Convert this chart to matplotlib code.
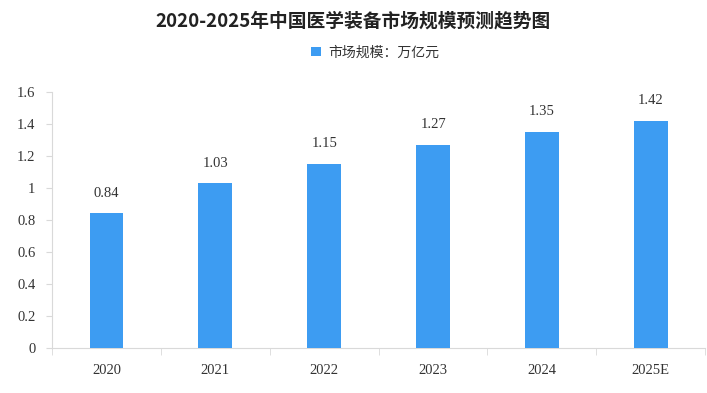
import numpy as np
import matplotlib.pyplot as plt

plt.rcParams['font.family'] = ['Noto Sans CJK SC', 'DejaVu Sans']

years = ["2020", "2021", "2022", "2023", "2024", "2025E"]
values = [0.84, 1.03, 1.15, 1.27, 1.35, 1.42]
yticks = [0, 0.2, 0.4, 0.6, 0.8, 1, 1.2, 1.4, 1.6]
ytick_labels = ["0", "0.2", "0.4", "0.6", "0.8", "1", "1.2", "1.4", "1.6"]

fig = plt.figure(figsize=(7.07, 3.93), dpi=100)
ax = fig.add_axes([0.0735, 0.115, 0.924, 0.651])

x = np.arange(len(years))
bars = ax.bar(x, values, width=0.31, color="#3d9cf2", label="市场规模：万亿元", zorder=3)

for xi, v in zip(x, values):
    ax.text(xi, v + 0.085, f"{v:.2f}", ha="center", va="bottom",
            fontsize=10.5, family="Liberation Serif", color="#333333")

ax.set_xlim(-0.5, len(years) - 0.5)
ax.set_ylim(0, 1.6)
ax.set_yticks(yticks)
ax.set_yticklabels(ytick_labels, family="Liberation Serif", fontsize=10.5, color="#333333")
ax.set_xticks(x)
ax.set_xticklabels(years, family="Liberation Serif", fontsize=10.5, color="#333333")
ax.set_xticks(np.arange(len(years) + 1) - 0.5, minor=True)
ax.tick_params(axis="x", which="major", length=0, pad=12)
ax.tick_params(axis="x", which="minor", length=5, color="#d9d9d9")
ax.tick_params(axis="y", length=4, color="#d9d9d9", pad=8)

for s in ["top", "right"]:
    ax.spines[s].set_visible(False)
ax.spines["left"].set_color("#d9d9d9")
ax.spines["bottom"].set_color("#d9d9d9")

fig.text(0.5, 0.946, "2020-2025年中国医学装备市场规模预测趋势图", ha="center", va="center",
         fontsize=13.5, fontweight="bold", color="#222222")
ax.legend(loc="center", bbox_to_anchor=(0.495, 1.155), frameon=False, fontsize=10,
          handlelength=0.7, handleheight=0.7, handletextpad=0.5, labelcolor="#333333")

fig.savefig("out.png", dpi=100)
